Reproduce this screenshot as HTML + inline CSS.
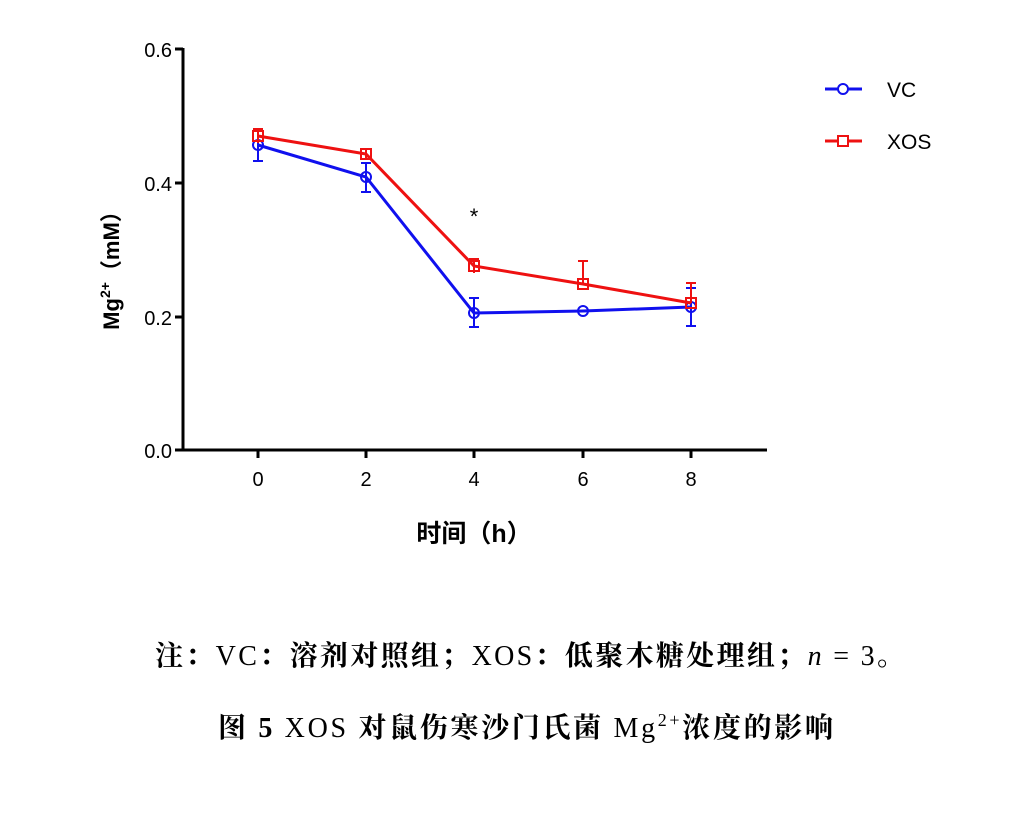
<!DOCTYPE html>
<html><head><meta charset="utf-8"><style>
body{margin:0;background:#fff;width:1021px;height:826px;overflow:hidden}
</style></head><body>
<svg width="1021" height="826" xmlns="http://www.w3.org/2000/svg" style="position:absolute;left:0;top:0">
<g stroke="#000" stroke-width="3" fill="none">
<line x1="183" y1="48" x2="183" y2="451"/>
<line x1="182" y1="450" x2="767" y2="450"/>
<line x1="175" y1="49" x2="183" y2="49"/>
<line x1="175" y1="183" x2="183" y2="183"/>
<line x1="175" y1="317" x2="183" y2="317"/>
<line x1="175" y1="450" x2="183" y2="450"/>
<line x1="258" y1="450" x2="258" y2="458"/>
<line x1="366" y1="450" x2="366" y2="458"/>
<line x1="474" y1="450" x2="474" y2="458"/>
<line x1="583" y1="450" x2="583" y2="458"/>
<line x1="691" y1="450" x2="691" y2="458"/>
</g>
<g font-family="Liberation Sans, sans-serif" font-size="20" fill="#000" text-anchor="end">
<text x="172" y="57">0.6</text><text x="172" y="191">0.4</text><text x="172" y="325">0.2</text><text x="172" y="458">0.0</text>
</g>
<g font-family="Liberation Sans, sans-serif" font-size="20" fill="#000" text-anchor="middle">
<text x="258" y="486">0</text><text x="366" y="486">2</text><text x="474" y="486">4</text><text x="583" y="486">6</text><text x="691" y="486">8</text>
<text x="474" y="224" font-size="22">*</text>
</g>
<g stroke="#1010ee" stroke-width="2" fill="none">
<line x1="258" y1="130" x2="258" y2="161"/><line x1="253" y1="130" x2="263" y2="130"/><line x1="253" y1="161" x2="263" y2="161"/>
<line x1="366" y1="163" x2="366" y2="192"/><line x1="361" y1="163" x2="371" y2="163"/><line x1="361" y1="192" x2="371" y2="192"/>
<line x1="474" y1="298" x2="474" y2="327"/><line x1="469" y1="298" x2="479" y2="298"/><line x1="469" y1="327" x2="479" y2="327"/>
<line x1="691" y1="288" x2="691" y2="326"/><line x1="686" y1="288" x2="696" y2="288"/><line x1="686" y1="326" x2="696" y2="326"/>
<polyline stroke-width="3" points="258,145 366,177 474,313 583,311 691,307"/>
<circle cx="258" cy="145" r="5"/><circle cx="366" cy="177" r="5"/><circle cx="474" cy="313" r="5"/><circle cx="583" cy="311" r="5"/><circle cx="691" cy="307" r="5"/>
</g>
<g stroke="#ee1111" stroke-width="2" fill="none">
<line x1="258" y1="129" x2="258" y2="143"/><line x1="253" y1="129" x2="263" y2="129"/>
<line x1="366" y1="148" x2="366" y2="160"/>
<line x1="474" y1="259" x2="474" y2="273"/><line x1="469" y1="259" x2="479" y2="259"/>
<line x1="583" y1="261" x2="583" y2="284"/><line x1="578" y1="261" x2="588" y2="261"/>
<line x1="691" y1="283" x2="691" y2="303"/><line x1="686" y1="283" x2="696" y2="283"/>
<polyline stroke-width="3" points="258,136 366,154 474,266 583,284 691,303"/>
<rect x="253" y="131" width="10" height="10"/><rect x="361" y="149" width="10" height="10"/><rect x="469" y="261" width="10" height="10"/><rect x="578" y="279" width="10" height="10"/><rect x="686" y="298" width="10" height="10"/>
</g>
<line x1="825" y1="89" x2="862" y2="89" stroke="#1010ee" stroke-width="3"/>
<circle cx="843" cy="89" r="5" stroke="#1010ee" stroke-width="2" fill="#fff"/>
<line x1="825" y1="141" x2="862" y2="141" stroke="#ee1111" stroke-width="3"/>
<rect x="838" y="136" width="10" height="10" stroke="#ee1111" stroke-width="2" fill="#fff"/>
<g font-family="Liberation Sans, sans-serif" font-size="21" fill="#000">
<text x="887" y="97">VC</text><text x="887" y="149">XOS</text>
</g>
<text transform="translate(119,265) rotate(-90)" text-anchor="middle" font-family="Liberation Sans, 'Noto Sans CJK SC', sans-serif" font-size="22" font-weight="bold">Mg<tspan font-size="14" dy="-9">2+</tspan><tspan dy="9">（mM）</tspan></text>
<text x="474" y="542" text-anchor="middle" font-family="Liberation Sans, 'Noto Sans CJK SC', sans-serif" font-size="25" font-weight="bold">时间（h）</text>
<text x="155" y="665" textLength="750" lengthAdjust="spacing" font-family="Liberation Serif, 'Noto Serif CJK SC', serif" font-size="28" font-weight="bold">注：<tspan font-weight="normal">VC</tspan>：溶剂对照组；<tspan font-weight="normal">XOS</tspan>：低聚木糖处理组；<tspan font-style="italic" font-weight="normal">n</tspan><tspan font-weight="normal"> = 3</tspan>。</text>
<text x="218" y="737" textLength="615" lengthAdjust="spacing" font-family="Liberation Serif, 'Noto Serif CJK SC', serif" font-size="28" font-weight="bold">图 5 <tspan font-weight="normal">XOS </tspan>对鼠伤寒沙门氏菌 <tspan font-weight="normal">Mg</tspan><tspan font-size="18" dy="-11" font-weight="normal">2+</tspan><tspan dy="11">浓度的影响</tspan></text>
</svg>
</body></html>
